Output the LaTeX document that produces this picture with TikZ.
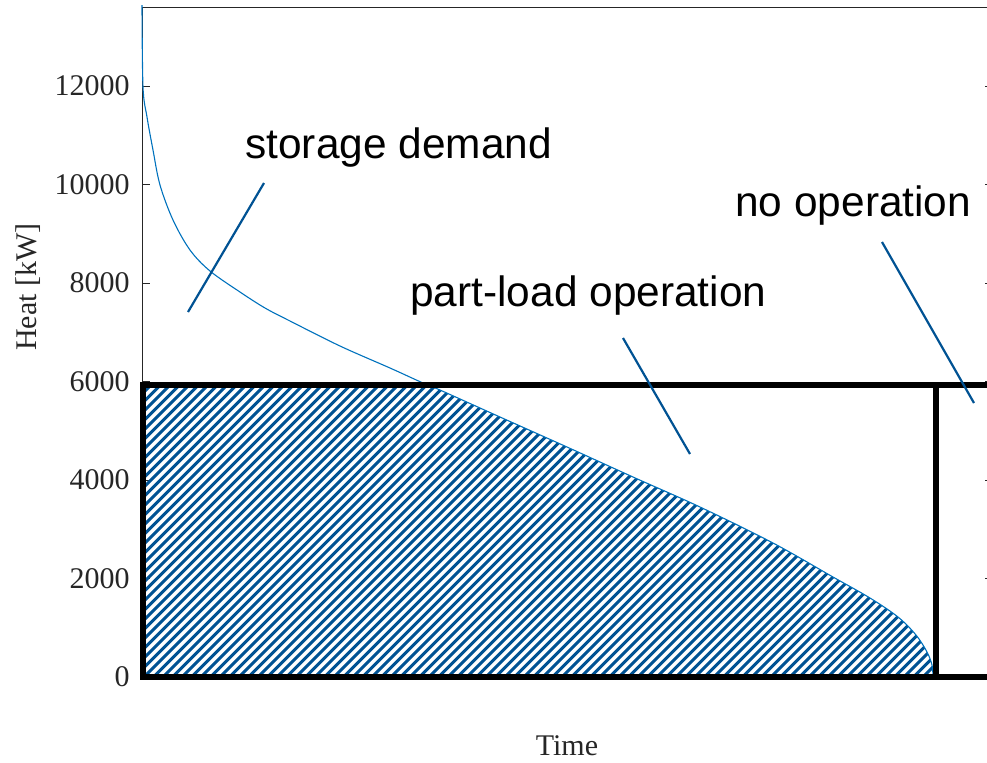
\documentclass[tikz,border=0pt]{standalone}
\usepackage{fontspec}
\setmainfont{Liberation Serif}
\newfontfamily\notefont{Liberation Sans}
\definecolor{axisgray}{RGB}{38,38,38}
\definecolor{curveblue}{RGB}{0,114,189}
\definecolor{hatchblue}{RGB}{0,82,147}

\begin{document}
\begin{tikzpicture}[x=0.5pt, y=-0.5pt,
		axis_style/.style={draw=axisgray, line width=0.5pt},
		tick_label/.style={font=\fontsize{15}{18}\selectfont, text=axisgray, anchor=east, inner sep=0pt},
		axis_label/.style={font=\fontsize{15}{18}\selectfont, text=axisgray, inner sep=0pt},
		note_style/.style={font=\notefont\fontsize{21.2}{25}\selectfont, anchor=base west, inner sep=0pt},
		pointer_style/.style={draw=hatchblue, line width=1.1pt},
		load_style/.style={draw=black, line width=2.6pt},
		hatch_style/.style={draw=hatchblue, line width=1.55pt},
		curve_style/.style={draw=curveblue, line width=0.55pt}]

		\useasboundingbox (0,0) rectangle (987,762);

		% axes box
		\draw[axis_style] (142,677) -- (142,7) -- (987,7);
		\foreach \v/\p in {0/677,2000/578.5,4000/480,6000/381.5,8000/283,10000/184.5,12000/86} {
			\draw[axis_style] (142,\p) -- (150,\p);
			\draw[axis_style] (993,\p) -- (985,\p);
			\node[tick_label] (t\v) at (130,\p) {\v};
		}
		\node[axis_label, rotate=90] (ylab) at (28,287) {Heat [kW]};
		\node[axis_label] (xlab) at (567,746) {Time};

		% hatched part-load area
		\begin{scope}
			\clip (143,385) rectangle (936,677);
			\clip plot[smooth, tension=0.55] coordinates {(142,5) (143,87) (147,117) (153,150) (160,185) (173,220) (190,250) (210,271) (240,292) (265,308) (290,321) (340,346) (390,368) (423,383) (440,390) (500,417) (567,447) (633,477) (700,507) (773,543) (833,577) (870,598) (898,617) (916,635) (927,652) (932,665) (933,677)} -- (142,677) -- cycle;
			\foreach \k in {0,...,120}
				\draw[hatch_style] (\k*9.5-160,677) -- ++(300,-300);
		\end{scope}

		% load duration curve
		\draw[curve_style] plot[smooth, tension=0.55] coordinates {(142,5) (143,87) (147,117) (153,150) (160,185) (173,220) (190,250) (210,271) (240,292) (265,308) (290,321) (340,346) (390,368) (423,383) (440,390) (500,417) (567,447) (633,477) (700,507) (773,543) (833,577) (870,598) (898,617) (916,635) (927,652) (932,665) (933,677)};

		% operating limits
		\draw[load_style] (987,385) -- (143,385) -- (143,677) -- (987,677);
		\draw[load_style] (936,385) -- (936,677);

		% annotations
		\node[note_style] (storage) at (245,158) {storage demand};
		\node[note_style] (partload) at (410,306) {part-load operation};
		\node[note_style] (noop) at (735,216) {no operation};

		\coordinate (storage_a) at (264,183);
		\coordinate (storage_b) at (188,312);
		\coordinate (partload_a) at (623,338);
		\coordinate (partload_b) at (690,454);
		\coordinate (noop_a) at (882,242);
		\coordinate (noop_b) at (974,403);

		\draw[pointer_style] (storage_a) -- (storage_b);
		\draw[pointer_style] (partload_a) -- (partload_b);
		\draw[pointer_style] (noop_a) -- (noop_b);

\end{tikzpicture}
\end{document}
